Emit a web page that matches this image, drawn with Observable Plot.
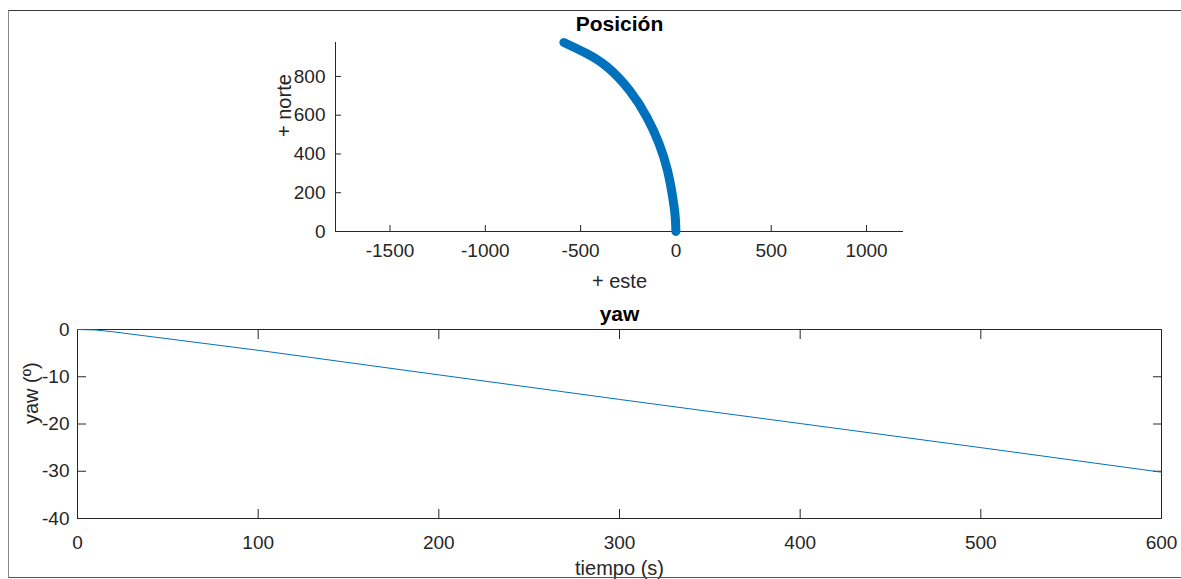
<!DOCTYPE html>
<html>
<head>
<meta charset="utf-8">
<script src="https://cdn.jsdelivr.net/npm/d3@7"></script>
<script src="https://cdn.jsdelivr.net/npm/@observablehq/plot@0.6"></script>
<style>
  html, body { margin: 0; padding: 0; background: #fff; }
  #wrap { position: relative; width: 1181px; height: 579px; overflow: hidden; font-family: "Liberation Sans", Arial, Helvetica, sans-serif; }
  #wrap svg { position: absolute; left: 0; font-family: "Liberation Sans", Arial, Helvetica, sans-serif; }
  #border { position: absolute; left: 8px; top: 10px; width: 1200px; height: 566px;
            border-top: 1px solid #3a3a3a; border-left: 1px solid #8a8a8a; border-bottom: 1px solid #555;
            pointer-events: none; }
</style>
</head>
<body>
<div id="wrap"></div>
<script>
// ---- Position (top subplot) ----
const este  = [0, -4, -17, -44, -88, -152, -242, -357, -471, -588];
const norte = [0, 80, 177, 314, 452, 589, 726, 846, 919, 975];
const esteTicks  = [-1500, -1000, -500, 0, 500, 1000];
const norteTicks = [0, 200, 400, 600, 800];
const esteDomain  = [-1786, 1194];
const norteDomain = [0, 975];

// ---- Yaw (bottom subplot) ----
const tiempo = [0, 10, 20, 100, 200, 300, 400, 500, 600];
const yaw    = [0, -0.1, -0.5, -4.4, -9.6, -14.8, -19.9, -25.0, -30.2];
const tiempoTicks = [0, 100, 200, 300, 400, 500, 600];
const yawTicks = [0, -10, -20, -30, -40];
const tiempoDomain = [0, 600];
const yawDomain = [-40, 0];

const BLUE = "#0072BD";
const INK = "#262626";
const FONT = "'Liberation Sans', Arial, Helvetica, sans-serif";

const posData = este.map((e, i) => ({este: e, norte: norte[i]}));
const yawData = tiempo.map((t, i) => ({t, yaw: yaw[i]}));

const topPlot = Plot.plot({
  width: 1181, height: 300,
  marginLeft: 335, marginRight: 278, marginTop: 42, marginBottom: 69,
  style: {fontFamily: FONT, color: INK, background: "transparent"},
  x: {domain: esteDomain},
  y: {domain: norteDomain},
  marks: [
    Plot.ruleY([norteDomain[0]], {stroke: INK}),
    Plot.ruleX([esteDomain[0]], {stroke: INK}),
    Plot.axisX({ticks: esteTicks, tickSize: -6, tickPadding: 18, fontSize: 19, label: null, stroke: INK, fill: INK, tickFormat: d => String(d)}),
    Plot.axisY({ticks: norteTicks, tickSize: -6, tickPadding: 16, fontSize: 19, label: null, stroke: INK, fill: INK, tickFormat: d => String(d)}),
    Plot.line(posData, {x: "este", y: "norte", curve: "natural", stroke: BLUE, strokeWidth: 9, strokeLinecap: "round", strokeLinejoin: "round"}),
    Plot.text(["Posición"], {frameAnchor: "top", lineAnchor: "middle", dy: -18, fontSize: 21, fontWeight: "bold", fill: "#000"}),
    Plot.text(["+ este"], {frameAnchor: "bottom", lineAnchor: "middle", dy: 50, fontSize: 20, fill: INK}),
    Plot.text(["+ norte"], {frameAnchor: "left", lineAnchor: "middle", rotate: -90, dx: -51, fontSize: 20, fill: INK})
  ]
});
topPlot.style.top = "0px";

const bottomPlot = Plot.plot({
  width: 1181, height: 289,
  marginLeft: 77, marginRight: 20, marginTop: 39, marginBottom: 61,
  style: {fontFamily: FONT, color: INK, background: "transparent"},
  x: {domain: tiempoDomain},
  y: {domain: yawDomain},
  marks: [
    Plot.frame({stroke: INK}),
    Plot.axisX({ticks: tiempoTicks, tickSize: -9, tickPadding: 26, fontSize: 19, label: null, stroke: INK, fill: INK, tickFormat: d => String(d)}),
    Plot.axisX({anchor: "top", ticks: tiempoTicks, tickSize: -9, label: null, stroke: INK, tickFormat: () => ""}),
    Plot.axisY({ticks: yawTicks, tickSize: -9, tickPadding: 17, fontSize: 19, label: null, stroke: INK, fill: INK, tickFormat: d => String(d)}),
    Plot.axisY({anchor: "right", ticks: yawTicks, tickSize: -9, label: null, stroke: INK, tickFormat: () => ""}),
    Plot.line(yawData, {x: "t", y: "yaw", stroke: BLUE, strokeWidth: 1}),
    Plot.text(["yaw"], {frameAnchor: "top", lineAnchor: "middle", dy: -15.5, fontSize: 21, fontWeight: "bold", fill: "#000"}),
    Plot.text(["tiempo (s)"], {frameAnchor: "bottom", lineAnchor: "middle", dy: 50, fontSize: 20, fill: INK}),
    Plot.text(["yaw (º)"], {frameAnchor: "left", lineAnchor: "middle", rotate: -90, dx: -46, fontSize: 20, fill: INK})
  ]
});
bottomPlot.style.top = "290px";

const wrap = document.getElementById("wrap");
wrap.appendChild(topPlot);
wrap.appendChild(bottomPlot);
const border = document.createElement("div"); border.id = "border"; wrap.appendChild(border);
</script>
</body>
</html>
